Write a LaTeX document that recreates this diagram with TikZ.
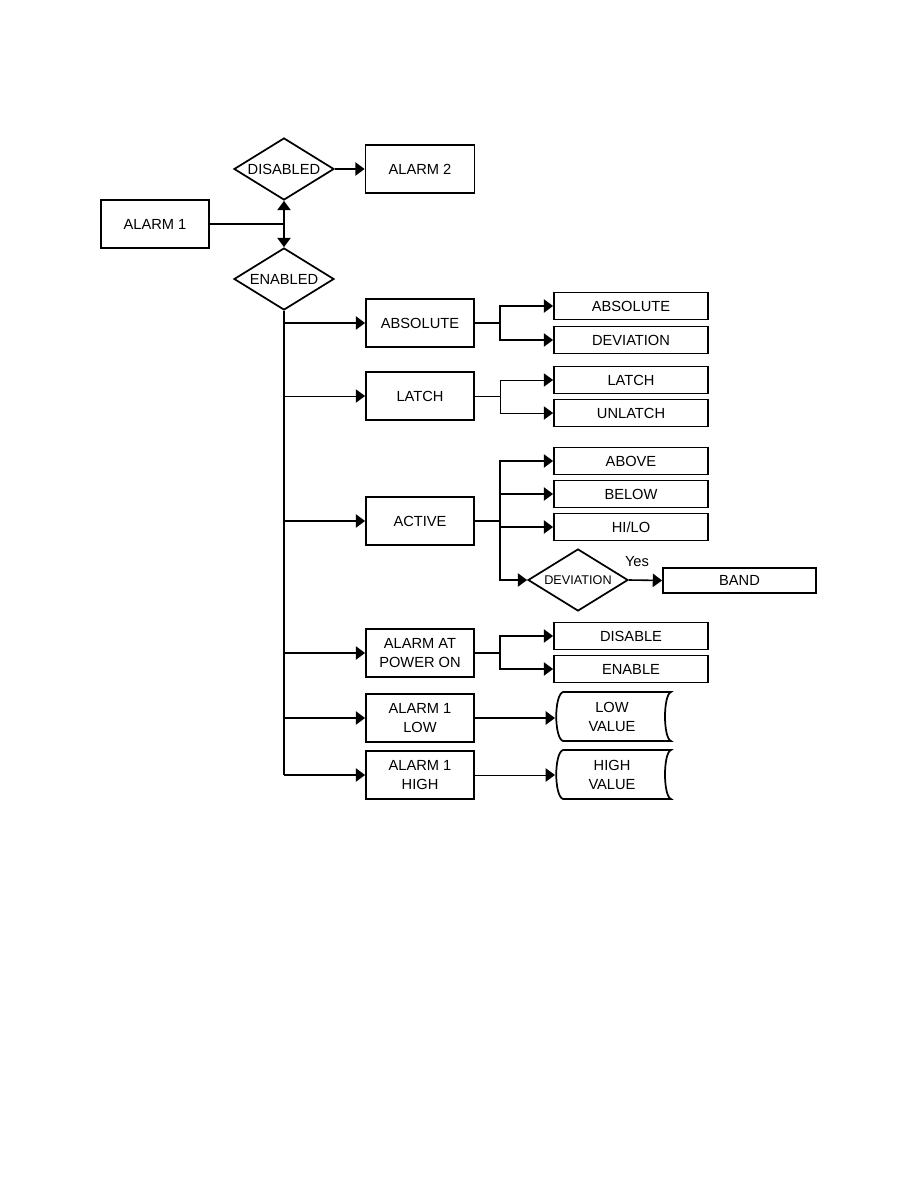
\documentclass[tikz,border=0pt]{standalone}
\usepackage{fontspec}
\setmainfont{Liberation Sans}
\usetikzlibrary{shapes.geometric,arrows.meta}
\begin{document}
\begin{tikzpicture}[x=0.75pt,y=-0.75pt,
  ln/.style={line width=1.2pt},
  thin/.style={line width=0.7pt},
  arr/.style={line width=1.2pt,-{Triangle[length=7pt,width=10pt]}},
  tarr/.style={line width=0.7pt,-{Triangle[length=7pt,width=10pt]}},
  mbox/.style={draw,line width=1.35pt,minimum width=81pt,minimum height=36pt,inner sep=0pt,align=center,font=\fontsize{11}{14}\selectfont},
  rbox/.style={draw,line width=1.35pt,minimum width=115.5pt,minimum height=20.25pt,inner sep=0pt,font=\fontsize{11}{14}\selectfont},
  dia/.style={draw,diamond,line width=1.3pt,minimum width=75pt,minimum height=46.5pt,inner sep=0pt},
  dtext/.style={font=\fontsize{11}{14}\selectfont,inner sep=0pt},
  stext/.style={font=\fontsize{9.5}{12}\selectfont,inner sep=0pt},
  vtext/.style={font=\fontsize{11}{14}\selectfont,align=center,inner sep=0pt}]
\useasboundingbox (0,0) rectangle (918,1188);
% top part
\node[mbox] (a1) at (155,224) {ALARM 1};
\node[dia] (dis) at (284,169) {};
\node[dtext] (distxt) at (dis.center) {DISABLED};
\node[mbox,minimum width=81.75pt] (a2) at (420,169) {ALARM 2};
\node[dia] (en) at (284,279) {};
\node[dtext] (entxt) at (en.center) {ENABLED};
\coordinate (j) at (284,224);
\draw[ln] (a1.east) -- (j);
\draw[arr] (j) -- (dis.south);
\draw[arr] (j) -- (en.north);
\draw[arr] (dis.east) -- (a2.west);
% middle column
\node[mbox] (abs) at (420,323) {ABSOLUTE};
\node[mbox] (lat) at (420,396) {LATCH};
\node[mbox] (act) at (420,521) {ACTIVE};
\node[mbox] (pwr) at (420,653) {ALARM AT\\POWER ON};
\node[mbox] (low) at (420,718) {ALARM 1\\LOW};
\node[mbox] (high) at (420,775) {ALARM 1\\HIGH};
\coordinate (tend) at (284,775);
\draw[ln] (en.south) -- (tend);
\draw[arr] (en.south |- abs.west) -- (abs.west);
\draw[tarr] (en.south |- lat.west) -- (lat.west);
\draw[arr] (en.south |- act.west) -- (act.west);
\draw[arr] (en.south |- pwr.west) -- (pwr.west);
\draw[arr] (en.south |- low.west) -- (low.west);
\draw[arr] (tend) -- (high.west);
% right column
\node[rbox] (rabs) at (631,306) {ABSOLUTE};
\node[rbox] (rdev) at (631,340) {DEVIATION};
\node[rbox] (rlat) at (631,380) {LATCH};
\node[rbox] (runl) at (631,413) {UNLATCH};
\node[rbox] (above) at (631,461) {ABOVE};
\node[rbox] (below) at (631,494) {BELOW};
\node[rbox] (hilo) at (631,527) {HI/LO};
\node[dia] (devd) at (578,580) {};
\node[stext] (devtxt) at (devd.center) {DEVIATION};
\node[rbox,minimum width=114.75pt,minimum height=18.75pt] (band) at (739.5,580.5) {BAND};
\node[font=\fontsize{11}{14}\selectfont,inner sep=0pt] (yes) at (637,562) {Yes};
\node[rbox] (disable) at (631,636) {DISABLE};
\node[rbox] (enable) at (631,669) {ENABLE};
% branches
\coordinate (babs) at (500,323);
\draw[ln] (abs.east) -- (babs);
\draw[arr] (babs) |- (rabs.west);
\draw[arr] (babs) |- (rdev.west);
\coordinate (blat) at (500,396);
\draw[thin] (lat.east) -- (blat);
\draw[tarr] (blat) |- (rlat.west);
\draw[tarr] (blat) |- (runl.west);
\coordinate (bact) at (500,521);
\draw[ln] (act.east) -- (bact);
\draw[arr] (bact) |- (above.west);
\draw[arr] (bact) |- (below.west);
\draw[arr] (bact) |- (hilo.west);
\draw[arr] (bact) |- (devd.west);
\draw[arr] (devd.east) -- (band.west);
\coordinate (bpwr) at (500,653);
\draw[ln] (pwr.east) -- (bpwr);
\draw[arr] (bpwr) |- (disable.west);
\draw[arr] (bpwr) |- (enable.west);
% stored data shapes
\draw[line width=1.3pt] (563,692) -- (671,692) .. controls (663,695) and (663,738) .. (671,741) -- (563,741) .. controls (554,738) and (554,695) .. (563,692) -- cycle;
\node[vtext] (lowv) at (612,717) {LOW\\VALUE};
\draw[line width=1.3pt] (563,750) -- (671,750) .. controls (663,753) and (663,796) .. (671,799) -- (563,799) .. controls (554,796) and (554,753) .. (563,750) -- cycle;
\node[vtext] (highv) at (612,775) {HIGH\\VALUE};
\coordinate (lowin) at (555,718);
\coordinate (highin) at (555,775);
\draw[arr] (low.east) -- (lowin);
\draw[tarr] (high.east) -- (highin);
\end{tikzpicture}
\end{document}
